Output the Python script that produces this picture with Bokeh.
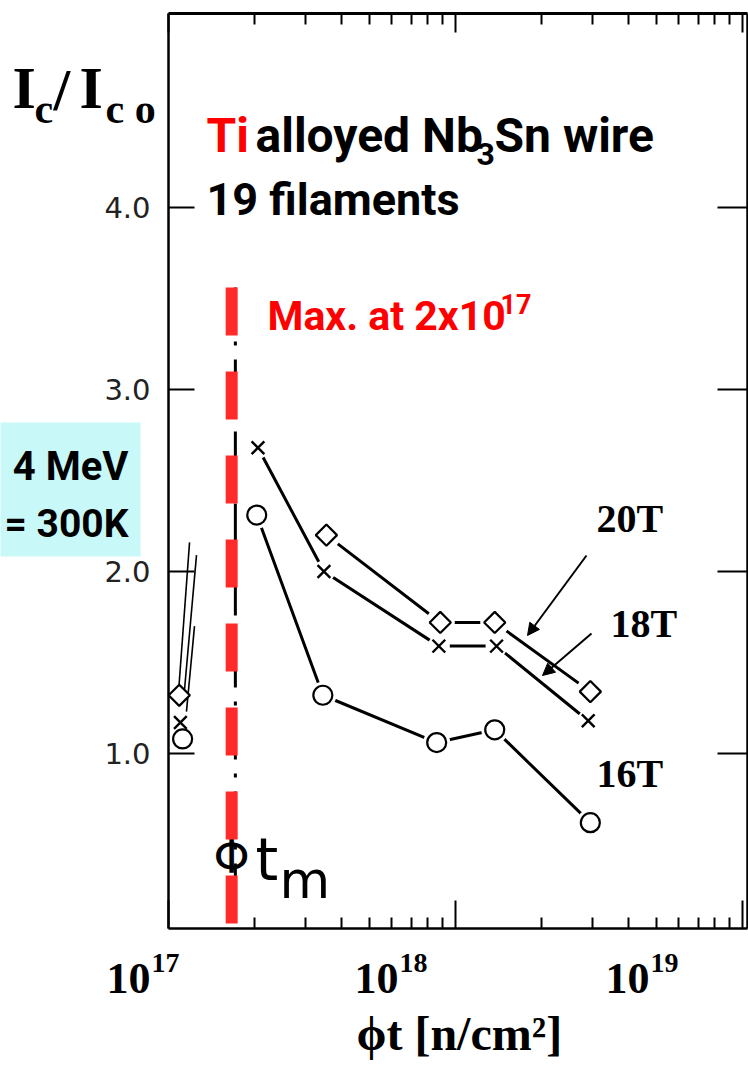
import numpy as np
from bokeh.plotting import figure
from bokeh.models import (Range1d, LogAxis, LinearAxis, FixedTicker, Label, BoxAnnotation,
                          Arrow, NormalHead, PrintfTickFormatter, CustomJSTickFormatter,
                          LogScale)
from bokeh.core.properties import value
from bokeh.embed import file_html
from bokeh.resources import INLINE

# ---------------- data ----------------
fluence_16T = [2.03e17, 3.45e17, 8.6e17, 1.37e18, 2.95e18]
ratio_16T = [2.31, 1.32, 1.06, 1.13, 0.62]
fluence_18T = [2.05e17, 3.48e17, 8.75e17, 1.39e18, 2.9e18]
ratio_18T = [2.68, 2.00, 1.59, 1.59, 1.18]
fluence_20T = [3.55e17, 8.85e17, 1.37e18, 2.95e18]
ratio_20T = [2.20, 1.72, 1.72, 1.34]

# unirradiated reference points at the left edge
ref_fluence_16T = [1.12e17]
ref_ratio_16T = [1.08]
ref_fluence_18T = [1.10e17]
ref_ratio_18T = [1.17]
ref_fluence_20T = [1.09e17]
ref_ratio_20T = [1.32]

# thin traces rising from the reference points
trace_x0 = [1.083e17, 1.128e17, 1.155e17]
trace_y0 = [1.33, 1.29, 1.23]
trace_x1 = [1.184e17, 1.252e17, 1.232e17]
trace_y1 = [2.16, 2.09, 1.70]

# fluence at maximum
phi_tm_scan = 1.71e17
phi_tm_mark = 1.66e17

x_major_ticks = [1e17, 1e18, 1e19]
x_minor_ticks = [m * 10.0 ** e for e in (17, 18) for m in range(2, 10)]
y_ticks = [1, 2, 3, 4]
x_tick_mantissa = "10"
x_tick_exponents = ["17", "18", "19"]
field_labels = ["20T", "18T", "16T"]

# ---------------- layout helpers (pixel -> data) ----------------
PX0, PX_DEC = 168, 287


def X(px):
    return 10 ** (17 + (px - PX0) / PX_DEC)


def Y(py):
    return (935 - py) / 182


W, H = 748, 1067
FL, FR, FT, FB = 168, 747, 13, 928   # original plot box in pixels
BASE_SHIFT = 0.35                     # baseline correction (em)

p = figure(width=W, height=H, x_axis_type=None, y_axis_type=None, output_backend="svg",
           toolbar_location=None,
           x_range=Range1d(X(0), X(W)), y_range=Range1d(Y(H), Y(0)),
           min_border=0)
p.x_scale = LogScale()
p.grid.visible = False
p.outline_line_color = None
p.background_fill_color = "white"
p.border_fill_color = "white"

xb = (X(FL), X(FR))
yb = (Y(FB), Y(FT))

bottom = LogAxis(ticker=FixedTicker(ticks=x_major_ticks, minor_ticks=x_minor_ticks),
                 formatter=CustomJSTickFormatter(code="return ''"),
                 fixed_location=Y(FB), bounds=xb,
                 major_tick_in=28, major_tick_out=0, minor_tick_in=11, minor_tick_out=0,
                 major_tick_line_width=2, minor_tick_line_width=2, axis_line_width=2.5)
p.add_layout(bottom, "below")

top = LogAxis(ticker=FixedTicker(ticks=x_major_ticks, minor_ticks=x_minor_ticks),
              formatter=CustomJSTickFormatter(code="return ''"),
              fixed_location=Y(FT), bounds=xb,
              major_tick_in=19, major_tick_out=0, minor_tick_in=11, minor_tick_out=0,
              major_tick_line_width=2, minor_tick_line_width=2, axis_line_width=3)
p.add_layout(top, "above")

left = LinearAxis(ticker=FixedTicker(ticks=y_ticks, minor_ticks=[]),
                  formatter=PrintfTickFormatter(format="%.1f"),
                  fixed_location=X(FL), bounds=yb,
                  major_tick_in=26, major_tick_out=0, minor_tick_line_color=None,
                  major_tick_line_width=2, axis_line_width=2.5,
                  major_label_text_font="DejaVu Sans", major_label_text_font_size="29px",
                  major_label_text_color="#222222", major_label_standoff=18)
p.add_layout(left, "left")

right = LinearAxis(ticker=FixedTicker(ticks=y_ticks, minor_ticks=[]),
                   formatter=CustomJSTickFormatter(code="return ''"),
                   fixed_location=X(FR), bounds=yb,
                   major_tick_in=30, major_tick_out=0, minor_tick_line_color=None,
                   major_tick_line_width=2, axis_line_width=2.5)
p.add_layout(right, "right")


def gtext(t, px, py, size):
    p.text(x=[X(px)], y=[Y(py - BASE_SHIFT * size)], text=[t],
           text_font=value("DejaVu Sans"), text_font_size=f"{size}px",
           text_baseline="alphabetic", text_color="black")


# phi t_m text (under the red marker line)
gtext("Φ", 213, 873, 46)
gtext("t", 255, 880, 58)
gtext("m", 279, 898, 52)

# scanned dash-dot line and red overlay
p.segment(x0=[phi_tm_scan], y0=[Y(287)], x1=[phi_tm_scan], y1=[Y(FB)],
          line_color="black", line_width=3, line_dash="40 14 4 14")
p.segment(x0=[phi_tm_mark], y0=[Y(287)], x1=[phi_tm_mark], y1=[Y(923)],
          line_color="#FF2A2A", line_width=12, line_dash="48 36")

# traces
p.segment(x0=trace_x0, y0=trace_y0, x1=trace_x1, y1=trace_y1, line_color="black",
          line_width=1.6)

# series lines
for xs, ys in [(fluence_16T, ratio_16T), (fluence_18T, ratio_18T), (fluence_20T, ratio_20T)]:
    p.line(xs, ys, line_color="black", line_width=3)

# white halos so lines stop short of the symbols
p.scatter(fluence_16T, ratio_16T, marker="circle", size=27, fill_color="white", line_color=None)
p.scatter(fluence_18T, ratio_18T, marker="circle", size=22, fill_color="white", line_color=None)
p.scatter(fluence_20T, ratio_20T, marker="circle", size=29, fill_color="white", line_color=None)

for xs, ys in [(fluence_16T, ratio_16T), (ref_fluence_16T, ref_ratio_16T)]:
    p.scatter(xs, ys, marker="circle", size=19, fill_color="white", line_color="black",
              line_width=2.2)
for xs, ys in [(fluence_18T, ratio_18T), (ref_fluence_18T, ref_ratio_18T)]:
    p.scatter(xs, ys, marker="x", size=18, line_color="black", line_width=2.4)
for xs, ys in [(fluence_20T, ratio_20T), (ref_fluence_20T, ref_ratio_20T)]:
    p.scatter(xs, ys, marker="square", angle=np.pi / 4, size=15, fill_color="white",
              line_color="black", line_width=2.2)

# arrows to the 20T and 18T curves
p.add_layout(Arrow(end=NormalHead(size=12, fill_color="black", line_color="black"),
                   x_start=X(586), y_start=Y(555), x_end=X(527), y_end=Y(635),
                   line_color="black", line_width=2))
p.add_layout(Arrow(end=NormalHead(size=12, fill_color="black", line_color="black"),
                   x_start=X(591), y_start=Y(633), x_end=X(542), y_end=Y(675),
                   line_color="black", line_width=2))

# cyan box on the left
p.add_layout(BoxAnnotation(left=X(-10), right=X(140), top=Y(422), bottom=Y(556),
                           fill_color="#C8F8F8", fill_alpha=1.0, line_color=None))

SERIF = "Liberation Serif"
SANS = "Roboto"


def lab(text, px, py, size, font, color="black", style="bold", align="left", **kw):
    p.add_layout(Label(x=X(px), y=Y(py - BASE_SHIFT * size), text=text, text_font=font,
                       text_font_size=f"{size}px", text_font_style=style, text_color=color,
                       text_align=align, text_baseline="alphabetic", **kw))


# y-axis title  Ic/Ico
lab("I", 12, 108, 60, SERIF)
lab("c", 34, 123, 42, SERIF)
lab("/", 53, 110, 60, SERIF)
lab("I", 79, 108, 60, SERIF)
lab("c o", 105, 123, 42, SERIF)

# title block
lab("Ti", 206, 152, 48, SANS, color="#FF0000")
lab("alloyed Nb", 255, 152, 48, SANS)
lab("3", 476, 165, 32, SANS)
lab("Sn wire", 494, 152, 48, SANS)
lab("19 filaments", 206, 215, 45, SANS)

lab("Max. at 2x10", 267, 330, 41, SANS, color="#FF0000")
lab("17", 500, 313, 27, SANS, color="#FF0000")

# cyan box text
lab("4 MeV", 128, 480, 40, SANS, align="right")
lab("= 300K", 128, 537, 39, SANS, align="right")

# field labels
lab(field_labels[0], 596, 532, 40, SERIF)
lab(field_labels[1], 610, 637, 40, SERIF)
lab(field_labels[2], 596, 787, 40, SERIF)

# x tick labels
for px, ex in zip([106, 354, 605], x_tick_exponents):
    lab(x_tick_mantissa, px, 993, 44, SERIF)
    lab(ex, px + 45, 972, 28, SERIF)

# x-axis title
lab("ϕt  [n/cm²]", 356, 1050, 48, SERIF)

open("out.html", "w").write(file_html(p, INLINE))
